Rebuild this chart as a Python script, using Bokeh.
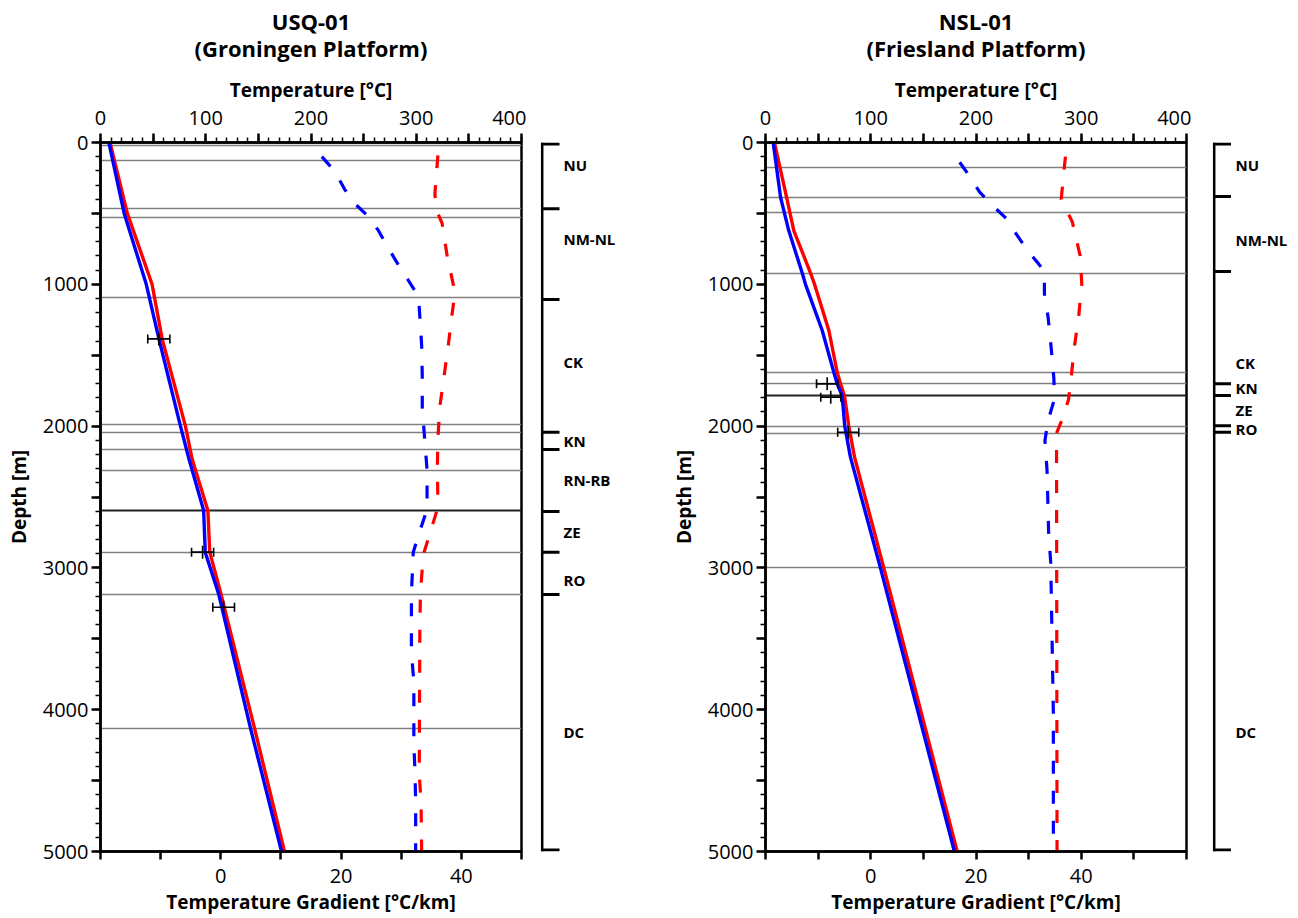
import math
from bokeh.plotting import figure
from bokeh.models import Range1d, LinearAxis, FixedTicker, ColumnDataSource
from bokeh.layouts import row, column
from bokeh.embed import file_html
from bokeh.resources import INLINE
from bokeh.core.properties import value

FONT = "Open Sans"

# ---------------- USQ-01 (Groningen Platform) ----------------
USQ_TITLE = ["USQ-01", "(Groningen Platform)"]
USQ_T_DEPTH = [0, 500, 1000, 1385, 2000, 2230, 2595, 2889, 3188, 4130, 5000]
USQ_T_BLUE = [7.9, 22.5, 43.5, 55.5, 76.0, 84.0, 98.0, 99.5, 112.4, 142.5, 172.0]
USQ_T_RED = [9.0, 25.5, 49.0, 58.6, 80.7, 87.0, 102.0, 103.8, 114.6, 146.3, 174.8]

USQ_G_DEPTH_BLUE = [100, 200, 330, 420, 520, 620, 740, 840, 960, 1060, 1100, 1230, 1430, 1650,
                    1870, 2090, 2310, 2520, 2600, 2740, 2890, 3000, 3170, 3600, 3800, 4240, 4450, 4660, 5000]
USQ_G_BLUE = [16.8, 18.9, 20.6, 22.0, 24.5, 26.2, 27.8, 29.2, 31.0, 32.5, 32.9, 33.1, 33.4, 33.5,
              33.5, 33.9, 34.3, 34.3, 34.2, 33.1, 32.0, 31.9, 31.7, 31.7, 32.1, 32.1, 32.3, 32.4, 32.4]
USQ_G_DEPTH_RED = [90, 360, 470, 570, 790, 1010, 1100, 1230, 1440, 1655, 1870, 2090, 2310, 2520,
                   2600, 2740, 2890, 2950, 3170, 3400, 4450, 4660, 5000]
USQ_G_RED = [36.1, 35.6, 35.8, 36.8, 37.6, 38.7, 38.8, 38.4, 37.8, 37.1, 36.4, 36.1, 36.0, 36.1,
             35.9, 34.9, 33.8, 33.6, 33.2, 33.1, 33.0, 33.3, 33.4]

USQ_ERR_DEPTH = [1385, 2889, 3277]
USQ_ERR_T = [55.4, 97.0, 117.0]
USQ_ERR = [10.5, 10.5, 10.3]

USQ_LINES = [21, 127, 468, 531, 1095, 1991, 2043, 2165, 2313, 2889, 3188, 4130]
USQ_DARK_LINES = [2595]

USQ_UNITS = ["NU", "NM-NL", "CK", "KN", "RN-RB", "ZE", "RO", "DC"]
USQ_BOUNDS = [0, 468, 1107, 2043, 2165, 2602, 2889, 3188, 5000]
USQ_LABEL_DEPTH = [162, 679, 1549, 2107, 2379, 2748, 3084, 4154]

# ---------------- NSL-01 (Friesland Platform) ----------------
NSL_TITLE = ["NSL-01", "(Friesland Platform)"]
NSL_T_DEPTH = [0, 386, 621, 921, 1000, 1326, 1620, 1702, 1784, 2000, 2219, 3000, 5000]
NSL_T_BLUE = [7.3, 14.3, 22.1, 34.9, 38.0, 53.9, 64.9, 68.1, 72.8, 75.3, 80.7, 109.2, 179.5]
NSL_T_RED = [8.5, 20.0, 26.9, 42.8, 46.6, 60.2, 68.1, 71.3, 75.0, 79.1, 84.6, 112.4, 182.1]

NSL_G_DEPTH_BLUE = [139, 228, 350, 432, 538, 637, 757, 856, 910, 1067, 1232, 1453, 1664, 1810,
                    1960, 2101, 2313, 2748, 2962, 3173, 4030, 5000]
NSL_G_BLUE = [16.9, 18.6, 20.7, 22.8, 25.8, 27.5, 29.7, 31.9, 33.0, 33.0, 33.7, 34.3, 34.8, 34.9,
              33.7, 33.1, 33.5, 33.8, 34.2, 34.3, 34.7, 34.7]
NSL_G_DEPTH_RED = [100, 200, 400, 560, 800, 1000, 1230, 1440, 1650, 1810, 1950, 2050, 5000]
NSL_G_RED = [37.0, 36.7, 36.2, 38.3, 39.8, 40.1, 39.5, 38.7, 38.1, 37.6, 36.4, 35.3, 35.4]

NSL_ERR_DEPTH = [1702, 1796, 2043]
NSL_ERR_T = [58.6, 62.0, 78.6]
NSL_ERR = [10.1, 9.5, 10.0]

NSL_LINES = [178, 386, 491, 921, 1620, 1702, 2000, 2054, 3000]
NSL_DARK_LINES = [1784]

NSL_UNITS = ["NU", "NM-NL", "CK", "KN", "ZE", "RO", "DC"]
NSL_BOUNDS = [0, 381, 910, 1702, 1784, 1998, 2043, 5000]
NSL_LABEL_DEPTH = [162, 691, 1556, 1730, 1885, 2019, 4154]

GRAD_LABELS = [0, 20, 40]

W = 1298
HEAD_H = 62
H = 918 - HEAD_H
TOP = 80
BOTTOM = 67
FRAME_H = 709
BLUE = "#0000ff"
RED = "#ff0000"
M_PER_PX = 5000 / FRAME_H


def style_axis(ax):
    ax.axis_line_width = 2.5
    ax.axis_line_color = "black"
    ax.major_tick_line_width = 2.5
    ax.major_tick_line_color = "black"
    ax.minor_tick_line_width = 1.5
    ax.minor_tick_line_color = "black"
    ax.major_tick_in = 0
    ax.major_tick_out = 9
    ax.minor_tick_in = 0
    ax.minor_tick_out = 5
    ax.major_label_text_font = FONT
    ax.major_label_text_font_size = "20px"
    ax.major_label_text_color = "black"
    ax.axis_label_text_font = FONT
    ax.axis_label_text_font_style = "bold"
    ax.axis_label_text_font_size = "19px"
    ax.axis_label_text_color = "black"


def make_panel(grad_end, t_depth, t_blue, t_red, gdb, gb, gdr, gr,
               e_d, e_t, e_e, lines, dark_lines):
    p = figure(width=526, height=H, x_range=Range1d(0, 400), y_range=Range1d(5000, 0),
               x_axis_location="above", output_backend="svg", toolbar_location=None,
               min_border_left=100, min_border_right=5, min_border_top=TOP,
               min_border_bottom=BOTTOM, title=None)
    p.xgrid.grid_line_color = None
    p.ygrid.grid_line_color = None
    p.outline_line_color = "black"
    p.outline_line_width = 2.5
    p.outline_line_alpha = 1.0
    p.background_fill_color = "white"
    p.border_fill_color = "white"

    # top temperature axis
    tx = p.xaxis[0]
    tx.ticker = FixedTicker(ticks=[float(v) for v in range(0, 401, 50)],
                            minor_ticks=[float(v) for v in range(0, 401, 10)])
    tx.major_label_overrides = {float(v): ("" if v % 100 else str(v)) for v in range(0, 401, 50)}
    tx.axis_label = "Temperature [°C]"
    style_axis(tx)
    tx.major_label_standoff = 9
    tx.axis_label_standoff = 5

    # left depth axis
    ly = p.yaxis[0]
    ly.ticker = FixedTicker(ticks=[float(v) for v in range(0, 5001, 500)],
                            minor_ticks=[float(v) for v in range(0, 5001, 100)])
    ly.major_label_overrides = {float(v): ("" if v % 1000 else str(v)) for v in range(0, 5001, 500)}
    ly.axis_label = "Depth [m]"
    style_axis(ly)
    ly.major_label_standoff = 3
    ly.axis_label_standoff = 8

    # bottom gradient axis
    p.extra_x_ranges = {"grad": Range1d(-20, grad_end)}
    gticks = [float(v) for v in range(-20, grad_end + 1, 10)]
    bx = LinearAxis(x_range_name="grad", ticker=FixedTicker(ticks=gticks, minor_ticks=[]),
                    axis_label="Temperature Gradient [°C/km]")
    bx.major_label_overrides = {v: (str(int(v)) if int(v) in GRAD_LABELS else "") for v in gticks}
    style_axis(bx)
    bx.major_tick_out = 8
    bx.minor_tick_line_color = None
    bx.major_label_standoff = 9
    bx.axis_label_standoff = 3
    p.add_layout(bx, "below")

    # formation boundary lines
    p.hspan(y=lines, line_color="#808080", line_width=1.6)
    p.hspan(y=dark_lines, line_color="#222222", line_width=1.8)

    # gradient (dashed) profiles
    p.line(gr, gdr, x_range_name="grad", line_color=RED, line_width=3.2, line_dash="13 17")
    p.line(gb, gdb, x_range_name="grad", line_color=BLUE, line_width=3.2, line_dash="13 17")

    # temperature profiles
    p.line(t_red, t_depth, line_color=RED, line_width=3.4)
    p.line(t_blue, t_depth, line_color=BLUE, line_width=3.4)

    # error bars
    lo = [t - e for t, e in zip(e_t, e_e)]
    hi = [t + e for t, e in zip(e_t, e_e)]
    src = ColumnDataSource(dict(d=e_d, t=e_t, lo=lo, hi=hi))
    p.segment(x0="lo", x1="hi", y0="d", y1="d", source=src, line_color="black", line_width=1.6)
    p.scatter(x="lo", y="d", source=src, marker="dash", angle=math.pi / 2, size=9,
              line_color="black", line_width=1.6)
    p.scatter(x="hi", y="d", source=src, marker="dash", angle=math.pi / 2, size=9,
              line_color="black", line_width=1.6)
    p.scatter(x="t", y="d", source=src, marker="dash", angle=math.pi / 2, size=13,
              line_color="black", line_width=1.6)
    return p


def make_bracket(width, y_range, x_line, tick_end, label_x, bounds, units, label_depth):
    b = figure(width=width, height=H, x_range=Range1d(0, width), y_range=y_range,
               x_axis_location=None, y_axis_location=None, title=None,
               output_backend="svg", toolbar_location=None, min_border_left=0,
               min_border_right=0, min_border_top=TOP, min_border_bottom=BOTTOM)
    b.xgrid.grid_line_color = None
    b.ygrid.grid_line_color = None
    b.outline_line_color = None
    # keep the end ticks fully inside the clipped frame
    half = 1.5 * M_PER_PX
    ys = list(bounds)
    ys[0] = bounds[0] + half
    ys[-1] = bounds[-1] - half
    b.segment(x0=[x_line], x1=[x_line], y0=[bounds[0]], y1=[bounds[-1]],
              line_color="black", line_width=2.5)
    b.segment(x0=[x_line - 1.2] * len(ys), x1=[tick_end] * len(ys), y0=ys, y1=ys,
              line_color="black", line_width=3)
    b.text(x=[label_x] * len(units), y=label_depth, text=units, text_font=value(FONT),
           text_font_style="bold", text_font_size="15px", text_baseline="middle",
           text_align="left", text_color="black")
    return b


# header strip with the two-line, centred titles (pixel coordinates)
head = figure(width=W, height=HEAD_H, x_range=Range1d(0, W), y_range=Range1d(HEAD_H, 0),
              x_axis_location=None, y_axis_location=None, title=None,
              output_backend="svg", toolbar_location=None, min_border=0)
head.xgrid.grid_line_color = None
head.ygrid.grid_line_color = None
head.outline_line_color = None
centres = [310.5, 975.5]
for cx, lines_ in zip(centres, (USQ_TITLE, NSL_TITLE)):
    head.text(x=[cx, cx], y=[20, 47], text=lines_, text_font=value(FONT),
              text_font_style="bold", text_font_size="22px", text_align="center",
              text_baseline="middle", text_color="black")

p1 = make_panel(50, USQ_T_DEPTH, USQ_T_BLUE, USQ_T_RED,
                USQ_G_DEPTH_BLUE, USQ_G_BLUE, USQ_G_DEPTH_RED, USQ_G_RED,
                USQ_ERR_DEPTH, USQ_ERR_T, USQ_ERR, USQ_LINES, USQ_DARK_LINES)
b1 = make_bracket(139, p1.y_range, 15.7, 33, 37, USQ_BOUNDS, USQ_UNITS, USQ_LABEL_DEPTH)
p2 = make_panel(60, NSL_T_DEPTH, NSL_T_BLUE, NSL_T_RED,
                NSL_G_DEPTH_BLUE, NSL_G_BLUE, NSL_G_DEPTH_RED, NSL_G_RED,
                NSL_ERR_DEPTH, NSL_ERR_T, NSL_ERR, NSL_LINES, NSL_DARK_LINES)
b2 = make_bracket(107, p2.y_range, 22.7, 39.5, 44, NSL_BOUNDS, NSL_UNITS, NSL_LABEL_DEPTH)

layout = column(head, row(p1, b1, p2, b2))
open("out.html", "w").write(file_html(layout, INLINE))
